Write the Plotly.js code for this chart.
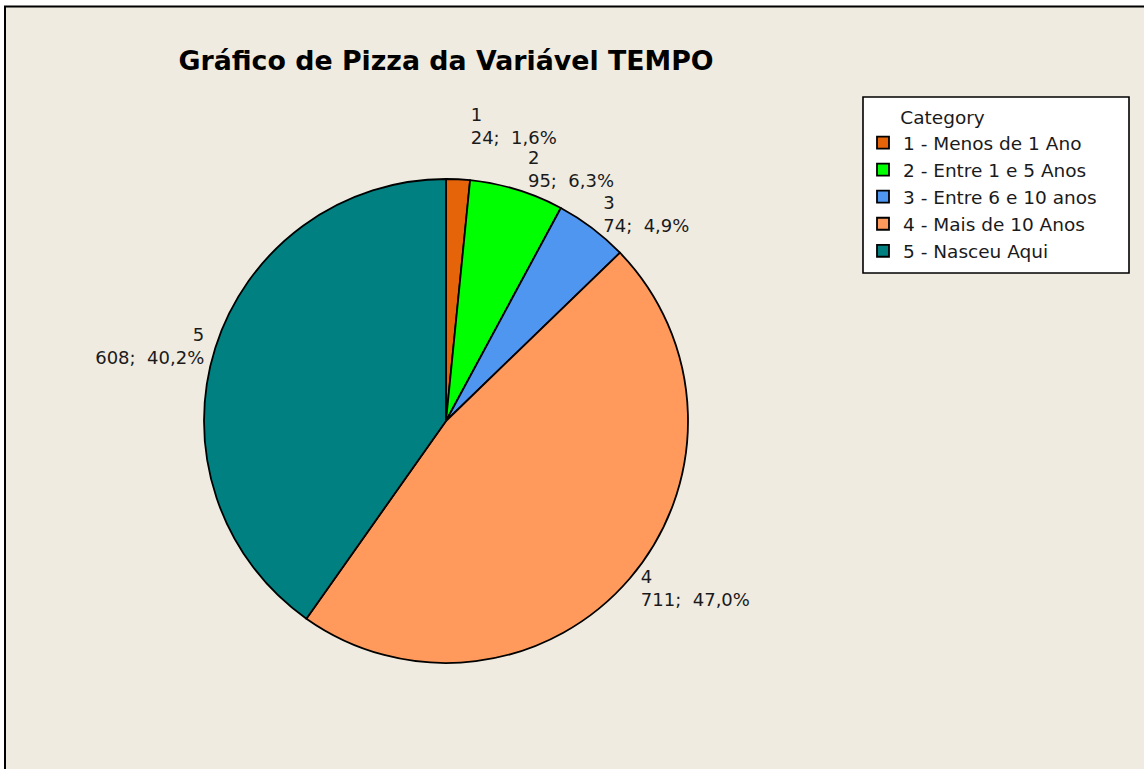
<!DOCTYPE html>
<html>
<head>
<meta charset="utf-8">
<script src="https://cdn.plot.ly/plotly-3.0.1.min.js"></script>
<style>html,body{margin:0;padding:0;background:#fff;}#chart{width:1144px;height:769px;}</style>
</head>
<body>
<div id="chart"></div>
<script>
const categories = ["1", "2", "3", "4", "5"];
const categoryNames = ["1 - Menos de 1 Ano", "2 - Entre 1 e 5 Anos", "3 - Entre 6 e 10 anos", "4 - Mais de 10 Anos", "5 - Nasceu Aqui"];
const counts = [24, 95, 74, 711, 608];
const sliceColors = ["#E5640A", "#00FF00", "#4F96F0", "#FF9A5C", "#008080"];

const W = 1144, H = 769;
const cx = 446, cy = 421, r = 242;
const rLabel1 = 273; // label of the thin first slice sits a little farther out, above label 2
const labelTemplate = "%{customdata}<br>%{value};  %{percent:.1%}";
function domainFor(rad) {
  return {x: [(cx - rad) / W, (cx + rad) / W], y: [1 - (cy + rad) / H, 1 - (cy - rad) / H]};
}
const labelFont = {family: "DejaVu Sans", size: 18, color: "#1a1a1a"};

// main pie: slices, legend, labels of slices 2-5
const mainTrace = {
  type: "pie",
  labels: categoryNames,
  values: counts,
  customdata: categories,
  sort: false,
  direction: "clockwise",
  rotation: 0,
  marker: {colors: sliceColors, line: {color: "#000000", width: 1.8}},
  textposition: "outside",
  texttemplate: categories.map((c, i) => i === 0 ? "" : labelTemplate),
  textfont: labelFont,
  hoverinfo: "label+value+percent",
  domain: domainFor(r)
};
// same pie, transparent, carrying only the label of slice 1
const labelTrace = {
  type: "pie",
  labels: categoryNames,
  values: counts,
  customdata: categories,
  sort: false,
  direction: "clockwise",
  rotation: 0,
  marker: {colors: sliceColors.map(() => "rgba(0,0,0,0)"), line: {width: 0}},
  textposition: "outside",
  texttemplate: categories.map((c, i) => i === 0 ? labelTemplate : ""),
  textfont: labelFont,
  hoverinfo: "skip",
  showlegend: false,
  domain: domainFor(rLabel1)
};

const legendBox = {x0: 863, x1: 1129, y0: 97, y1: 273};

const layout = {
  width: W, height: H,
  margin: {l: 0, r: 0, t: 0, b: 0},
  paper_bgcolor: "#ffffff",
  separators: ",.",
  title: {
    text: "<b>Gráfico de Pizza da Variável TEMPO</b>",
    font: {family: "DejaVu Sans", size: 26.8, color: "#000000"},
    x: cx / W, xanchor: "center", xref: "paper",
    y: 1 - 61 / H, yanchor: "middle", yref: "paper"
  },
  showlegend: true,
  legend: {
    x: legendBox.x0 / W, y: 1 - (legendBox.y0 + 3) / H, xanchor: "left", yanchor: "top",
    bgcolor: "rgba(0,0,0,0)", borderwidth: 0,
    font: {family: "DejaVu Sans", size: 18.5, color: "#1a1a1a"},
    title: {text: "\u00A0\u00A0\u00A0\u00A0\u00A0\u00A0Category", font: {family: "DejaVu Sans", size: 18.5, color: "#1a1a1a"}},
    traceorder: "normal"
  },
  shapes: [{
    type: "rect", xref: "paper", yref: "paper", layer: "below",
    x0: 5 / W, x1: 1.01, y0: -0.01, y1: 1 - 6.5 / H,
    fillcolor: "#EFEBE1", line: {color: "#000000", width: 2}
  }, {
    type: "rect", xref: "paper", yref: "paper", layer: "below",
    x0: legendBox.x0 / W, x1: legendBox.x1 / W, y0: 1 - legendBox.y1 / H, y1: 1 - legendBox.y0 / H,
    fillcolor: "#ffffff", line: {color: "#000000", width: 1.6}
  }]
};

Plotly.newPlot("chart", [mainTrace, labelTrace], layout, {displayModeBar: false, staticPlot: true}).then(function (gd) {
  // align label lines toward the pie side (left-aligned on the right, right-aligned on the left)
  gd.querySelectorAll(".slicetext text").forEach(function (t) {
    const rect = t.getBoundingClientRect();
    const bb = t.getBBox();
    const rightSide = (rect.left + rect.right) / 2 >= cx;
    const newX = rightSide ? bb.x : bb.x + bb.width;
    t.setAttribute("text-anchor", rightSide ? "start" : "end");
    t.setAttribute("x", newX);
    t.querySelectorAll("tspan.line").forEach(function (s) { s.setAttribute("x", newX); });
  });
});
</script>
</body>
</html>
